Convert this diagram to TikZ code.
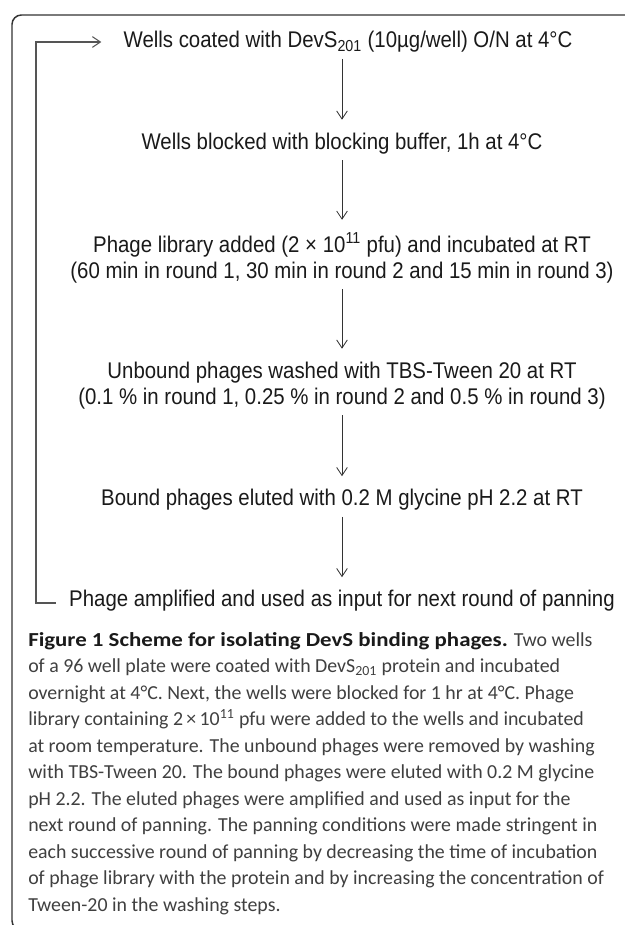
\documentclass[tikz,border=0pt]{standalone}
\usepackage{fontspec}
\setmainfont{Liberation Sans}
\newfontfamily\diagfont[FakeStretch=0.9]{Liberation Sans}
\newfontfamily\capfont[BoldFeatures={FakeStretch=1.15}]{Carlito}
\usetikzlibrary{arrows.meta,calc}
\definecolor{framec}{HTML}{333333}
\definecolor{loopc}{HTML}{555555}
\definecolor{captxt}{HTML}{404040}
\definecolor{diagtxt}{HTML}{1A1A1A}
\begin{document}
\begin{tikzpicture}[x=0.75pt,y=-0.75pt,
  steptext/.style={font=\diagfont\fontsize{17}{19.5}\selectfont, inner sep=0pt, align=center, text=diagtxt},
  flowarrow/.style={-{Straight Barb[length=6pt,width=8pt]}, line width=0.6pt, draw=black!80},
  loopline/.style={line width=0.8pt, draw=loopc},
  framestyle/.style={line width=1.1pt, draw=framec, rounded corners=7pt}]
\useasboundingbox (0,0) rectangle (625,925);
\fill[white] (0,0) rectangle (625,925);
\begin{scope}
\clip (0,0) rectangle (625,925);
\draw[framestyle] (640,15) -- (12,15) -- (12,930) -- (640,930);
\end{scope}
\coordinate (ax) at (342,0);
\coordinate (lx) at (36,0);
\node[steptext] (s1) at (348,42) {Wells coated with DevS\textsubscript{201} (10µg/well) O/N at 4°C};
\node[steptext] (s2) at (342,143.5) {Wells blocked with blocking buffer, 1h at 4°C};
\node[steptext] (s3) at (342,258) {Phage library added (2 × 10\textsuperscript{11} pfu) and incubated at RT\\(60 min in round 1, 30 min in round 2 and 15 min in round 3)};
\node[steptext] (s4) at (342,385.5) {Unbound phages washed with TBS-Tween 20 at RT\\(0.1 \% in round 1, 0.25 \% in round 2 and 0.5 \% in round 3)};
\node[steptext] (s5) at (342,500) {Bound phages eluted with 0.2 M glycine pH 2.2 at RT};
\node[steptext] (s6) at (342,601) {Phage amplified and used as input for next round of panning};
\draw[flowarrow] ($(s1.south -| ax)+(0,6)$) -- ($(s2.north -| ax)+(0,-13)$);
\draw[flowarrow] ($(s2.south -| ax)+(0,6)$) -- ($(s3.north -| ax)+(0,-13)$);
\draw[flowarrow] ($(s3.south -| ax)+(0,6)$) -- ($(s4.north -| ax)+(0,-13)$);
\draw[flowarrow] ($(s4.south -| ax)+(0,6)$) -- ($(s5.north -| ax)+(0,-13)$);
\draw[flowarrow] ($(s5.south -| ax)+(0,6)$) -- ($(s6.north -| ax)+(0,-13)$);
\draw[loopline, -{Straight Barb[length=6pt,width=8pt]}] ($(s6.west)+(-13,2)$) -- ($(s6.west -| lx)+(0,2)$) -- (s1.west -| lx) -- ($(s1.west)+(-22,0)$);
\node[anchor=base west, inner sep=0pt, text=captxt, font=\capfont\fontsize{14.9}{19.9}\selectfont] (cap) at (28,646)
{\begin{minipage}[t]{470pt}\raggedright\parindent=0pt\leavevmode
{\bfseries\color{diagtxt}Figure 1 Scheme for isolating DevS binding phages.} Two wells\\
of a 96 well plate were coated with DevS\textsubscript{201} protein and incubated\\
overnight at 4°C. Next, the wells were blocked for 1 hr at 4°C. Phage\\
library containing 2\,×\,10\textsuperscript{11} pfu were added to the wells and incubated\\
at room temperature. The unbound phages were removed by washing\\
with TBS-Tween 20. The bound phages were eluted with 0.2 M glycine\\
pH 2.2. The eluted phages were amplified and used as input for the\\
next round of panning. The panning conditions were made stringent in\\
each successive round of panning by decreasing the time of incubation\\
of phage library with the protein and by increasing the concentration of\\
Tween-20 in the washing steps.
\end{minipage}};
\end{tikzpicture}
\end{document}
